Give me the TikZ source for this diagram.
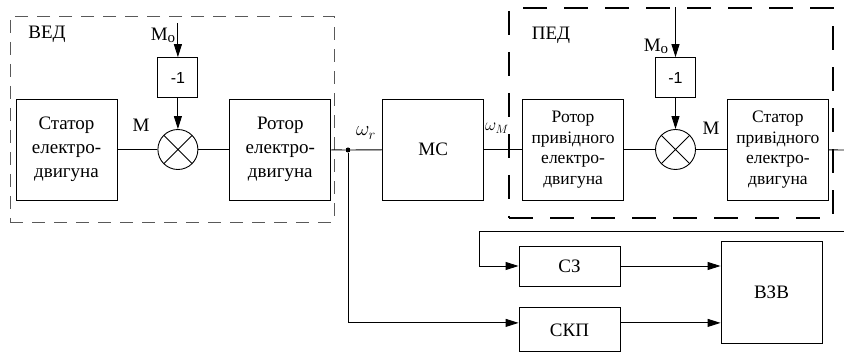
\documentclass[tikz,border=0pt]{standalone}
\usepackage{fontspec}
\setmainfont{Liberation Serif}
\newfontfamily\serifblock{Liberation Serif}
\newfontfamily\sansgain{Liberation Sans}
\usetikzlibrary{
    arrows.meta,
    positioning,
    calc
}

\begin{document}
\begin{tikzpicture}[
    x=1pt, y=-1pt,
    line width=0.9pt,
    every node/.style={font=\serifblock\fontsize{19}{24}\selectfont},
    block/.style={rectangle, draw, align=center, inner sep=0pt,
      minimum width=101pt, minimum height=101pt},
    pedblock/.style={block, font=\serifblock\fontsize{17.5}{20.5}\selectfont},
    flat/.style={rectangle, draw, align=center, inner sep=0pt,
      minimum width=101pt, minimum height=40pt},
    gain/.style={rectangle, draw, inner sep=0pt, minimum size=40pt,
      font=\sansgain\fontsize{16}{18}\selectfont},
    summer/.style={circle, draw, inner sep=0pt, minimum size=40pt,
      path picture={\draw (path picture bounding box.south west) -- (path picture bounding box.north east)
        (path picture bounding box.north west) -- (path picture bounding box.south east);}},
    dot/.style={circle, fill, inner sep=0pt, minimum size=5pt},
    vedframe/.style={rectangle, draw=black!65, dash pattern=on 13pt off 9pt},
    pedframe/.style={rectangle, draw, line width=1.3pt, dash pattern=on 24pt off 17pt},
    arrow/.style={-{Triangle[length=13pt, width=8pt]}}
]
\useasboundingbox (0,0) rectangle (844,352);

% frames
\node[vedframe, minimum width=324pt, minimum height=206pt] (ved) at (172,119) {};
\node[pedframe, minimum width=324pt, minimum height=210pt] (ped) at (671,113) {};
\node (vedlabel) at (47,34) {ВЕД};
\node (pedlabel) at (551,35) {ПЕД};

% upper chain
\node[block] (stat1) at (66.5,149.5) {Статор\\електро-\\двигуна};
\node[summer, right=40pt of stat1] (sum1) {};
\node[block, right=31pt of sum1] (rot1) {Ротор\\електро-\\двигуна};
\node[gain, above=31pt of sum1] (gain1) {-1};
\node[dot] (split) at (348,150) {};
\node[block, right=51pt of rot1] (mc) {МС};
\node[pedblock, right=38pt of mc] (rot2) {Ротор\\привідного\\електро-\\двигуна};
\node[summer, right=31pt of rot2] (sum2) {};
\node[pedblock, right=31pt of sum2] (stat2) {Статор\\привідного\\електро-\\двигуна};
\node[gain, above=31pt of sum2] (gain2) {-1};

\coordinate[above=34pt of gain1.north] (load1);
\coordinate (load2) at (gain2.north |- ped.north);
\coordinate (out) at (844,150);
\coordinate (back) at (844,231);
\coordinate (bend) at (479,231);

\node (m1) at (141,125) {М};
\node (m2) at (711,128) {М};
\node[anchor=east] (mo1) at (179,35) {М\raisebox{-2pt}{\fontsize{15}{15}\selectfont о}};
\node[anchor=east] (mo2) at (672,46) {М\raisebox{-2pt}{\fontsize{15}{15}\selectfont о}};
\node[font=\fontsize{21}{24}\selectfont] (wr) at (366,133) {$\omega_r$};
\node[font=\fontsize{17}{20}\selectfont] (wm) at (497,128) {$\omega_M$};

% lower part
\node[flat] (sz) at (569.5,266) {СЗ};
\node[flat, minimum height=44pt, below=21pt of sz] (skp) {СКП};
\node[block, minimum height=102pt] (vzv) at (771.5,292) {ВЗВ};

\draw[arrow] (load1) -- (gain1);
\draw[arrow] (gain1) -- (sum1);
\draw[arrow] (load2) -- (gain2);
\draw[arrow] (gain2) -- (sum2);
\draw (stat1) -- (sum1);
\draw (sum1) -- (rot1);
\draw (rot1) -- (split);
\draw (split) -- (mc);
\draw (mc) -- (rot2);
\draw (rot2) -- (sum2);
\draw (sum2) -- (stat2);
\draw (stat2) -- (out);
\draw[arrow] (back) -- (bend) |- (sz.west);
\draw[arrow] (split) |- ([yshift=7pt]skp.west);
\draw[arrow] (sz.east) -- (sz.east -| vzv.west);
\draw[arrow] ([yshift=7pt]skp.east) -- ([yshift=7pt]skp.east -| vzv.west);
\end{tikzpicture}
\end{document}
